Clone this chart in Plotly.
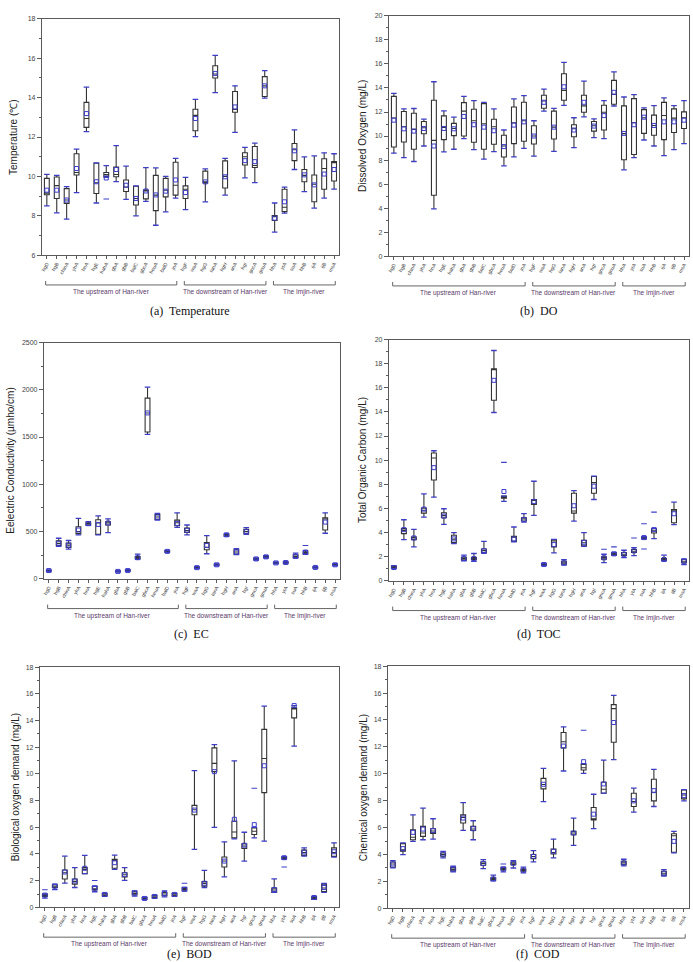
import plotly.graph_objects as go

W, H = 693, 962

upstream = ["hgD", "hgB", "chinA", "yhA", "hnA", "hgE", "hahA", "gbA", "gbB", "balC", "gbcA", "heuA", "balD", "jnA"]
downstream = ["hgF", "waA", "hgG", "tanA", "hgH", "anA", "hgI", "gncA", "gnuA"]
imjin = ["hhA", "ytA", "suA", "hhB", "ijA", "ijB", "msA"]
sites = upstream + downstream + imjin
group_names = ["The upstream of Han-river", "The downstream of Han-river", "The Imjin-river"]
group_sites = [upstream, downstream, imjin]

# ---- (a) Temperature
temp_min = [8.5, 8.15, 7.83, 9.18, 12.27, 8.65, 9.95, 9.73, 8.83, 8.0, 8.73, 7.52, 8.2, 8.9,
            8.31, 12.02, 8.71, 14.26, 9.05, 12.24, 9.93, 9.68, 13.98,
            7.17, 8.13, 10.35, 9.23, 8.39, 8.9, 9.35]
temp_q1 = [9.07, 8.88, 8.63, 10.07, 12.49, 9.13, 10.0, 9.98, 9.23, 8.55, 8.86, 8.26, 8.96, 9.05,
           8.88, 12.32, 9.67, 15.0, 9.41, 13.26, 10.58, 10.45, 14.06,
           7.76, 8.21, 10.8, 9.73, 8.71, 9.35, 9.77]
temp_med = [9.15, 9.53, 8.8, 10.2, 12.94, 9.68, 10.1, 10.1, 9.46, 8.88, 9.26, 9.05, 9.3, 9.55,
            9.35, 13.1, 9.72, 15.2, 10.0, 13.4, 11.0, 10.55, 14.6,
            7.95, 8.43, 11.35, 10.05, 9.6, 10.4, 10.7]
temp_q3 = [9.9, 9.97, 9.38, 11.15, 13.76, 10.67, 10.2, 10.47, 9.82, 9.5, 9.31, 10.05, 9.9, 10.72,
           9.52, 13.41, 10.27, 15.62, 10.79, 14.31, 11.2, 11.52, 15.07,
           8.01, 9.35, 11.67, 10.35, 10.07, 10.9, 10.75]
temp_max = [10.1, 10.05, 9.48, 11.39, 14.53, 10.69, 10.55, 11.56, 10.52, 9.52, 10.45, 10.43, 10.0, 10.92,
            9.95, 13.91, 10.38, 16.15, 10.92, 14.6, 11.47, 11.69, 15.37,
            8.65, 9.46, 12.36, 10.99, 11.04, 11.2, 11.15]
temp_mean = [9.3, 9.3, 8.8, 10.4, 13.19, 9.73, 9.92, 10.35, 9.55, 8.88, 9.26, 9.06, 9.25, 9.82,
             9.18, 12.94, 9.72, 15.23, 9.98, 13.53, 10.8, 10.75, 14.6,
             7.88, 8.71, 11.3, 10.08, 9.57, 10.12, 10.35]
temp_out = [("hahA", 8.85)]

# ---- (b) DO
do_min = [8.57, 8.2, 7.88, 9.17, 3.94, 8.68, 8.9, 9.78, 8.87, 8.07, 8.7, 7.52, 8.26, 8.98,
          8.32, 12.07, 8.73, 12.56, 9.04, 11.6, 9.86, 9.78, 12.5,
          7.19, 8.2, 9.67, 9.17, 8.37, 8.87, 9.37]
do_q1 = [9.09, 9.5, 8.9, 10.19, 5.07, 9.7, 10.03, 10.0, 9.48, 8.9, 9.31, 8.26, 9.37, 9.56,
         9.34, 12.31, 9.75, 12.98, 9.94, 11.98, 10.41, 10.5, 12.64,
         8.02, 8.46, 10.22, 10.06, 9.7, 10.3, 10.63]
do_med = [11.5, 10.77, 10.55, 10.69, 9.64, 10.72, 10.63, 12.07, 11.27, 11.02, 10.77, 9.17, 11.1, 11.27,
          10.0, 12.92, 10.74, 13.8, 10.6, 12.51, 10.85, 11.98, 13.47,
          10.2, 11.1, 11.52, 10.88, 11.71, 11.49, 11.52]
do_q3 = [13.3, 12.04, 11.9, 11.21, 12.98, 11.68, 11.05, 12.78, 12.23, 12.7, 11.4, 10.06, 12.42, 12.81,
         10.85, 13.39, 12.07, 15.18, 10.94, 13.39, 11.21, 12.56, 14.63,
         12.51, 13.11, 12.2, 11.74, 12.8, 12.26, 12.01]
do_max = [13.55, 12.26, 12.29, 11.4, 14.52, 12.09, 11.57, 13.3, 12.95, 12.81, 12.26, 10.5, 13.09, 13.36,
          11.27, 13.91, 12.31, 16.14, 11.52, 14.57, 11.43, 12.95, 15.34,
          13.25, 13.44, 12.35, 12.53, 13.17, 12.53, 12.95]
do_mean = [11.32, 10.6, 10.41, 10.63, 9.17, 10.63, 10.6, 11.63, 10.94, 10.74, 10.44, 9.12, 10.91, 11.18,
           10.0, 12.81, 10.74, 14.1, 10.5, 12.81, 10.83, 11.7, 13.64,
           10.22, 10.94, 11.57, 10.88, 11.18, 11.18, 11.32]
do_out = []

# ---- (c) EC
ec_min = [75, 342, 314, 465, 565, 465, 489, 70, 78, 206, 1529, 621, 280, 544,
          464, 108, 265, 138, 450, 255, 471, 199, 220,
          158, 162, 220, 258, 112, 482, 138]
ec_q1 = [80, 353, 332, 478, 569, 470, 569, 74, 82, 216, 1553, 628, 285, 562,
         489, 113, 307, 143, 454, 262, 482, 203, 225,
         163, 167, 227, 265, 116, 517, 143]
ec_med = [85, 375, 356, 500, 583, 590, 590, 78, 87, 223, 1755, 653, 290, 593,
          510, 118, 332, 148, 465, 283, 500, 210, 232,
          168, 172, 237, 280, 120, 632, 148]
ec_q3 = [90, 401, 377, 551, 593, 625, 604, 82, 92, 234, 1912, 680, 295, 621,
         537, 123, 384, 153, 471, 307, 523, 217, 240,
         173, 177, 255, 286, 124, 646, 153]
ec_max = [95, 429, 405, 639, 604, 665, 635, 85, 97, 262, 2028, 691, 300, 698,
          569, 128, 457, 158, 478, 318, 541, 222, 245,
          178, 182, 272, 297, 128, 698, 160]
ec_mean = [87, 377, 356, 516, 583, 575, 590, 78, 87, 223, 1755, 653, 290, 586,
           513, 118, 352, 148, 465, 283, 499, 210, 232,
           168, 172, 237, 283, 120, 600, 148]
ec_out = [("hhB", 352)]

# ---- (d) TOC
toc_min = [1.0, 3.41, 2.81, 5.28, 6.93, 4.68, 3.08, 1.65, 1.6, 2.28, 13.95, 6.58, 3.22, 4.87,
           5.42, 1.25, 2.31, 1.29, 4.95, 2.86, 6.74, 1.51, 2.1,
           1.93, 2.09, 3.45, 3.49, 1.65, 4.65, 1.35]
toc_q1 = [1.05, 3.91, 3.41, 5.61, 8.36, 5.23, 3.16, 1.71, 1.75, 2.34, 14.97, 6.85, 3.27, 4.95,
          6.33, 1.27, 2.81, 1.38, 5.61, 2.89, 7.26, 1.79, 2.15,
          2.09, 2.34, 3.49, 3.96, 1.68, 4.81, 1.49]
toc_med = [1.1, 4.18, 3.55, 5.85, 10.18, 5.4, 3.45, 1.84, 1.84, 2.5, 17.52, 6.95, 3.62, 5.12,
           6.65, 1.35, 3.3, 1.5, 5.78, 3.15, 8.14, 1.9, 2.22,
           2.2, 2.45, 3.55, 4.15, 1.76, 5.8, 1.62]
toc_q3 = [1.21, 4.32, 3.63, 6.02, 10.59, 5.64, 3.77, 1.95, 1.92, 2.64, 17.58, 7.02, 3.69, 5.23,
          6.74, 1.43, 3.41, 1.62, 7.26, 3.36, 8.64, 1.98, 2.31,
          2.34, 2.59, 3.6, 4.32, 1.84, 5.91, 1.76]
toc_max = [1.25, 5.06, 4.26, 7.2, 10.78, 5.97, 3.99, 2.12, 2.26, 3.27, 19.09, 7.02, 4.46, 5.56,
           8.25, 1.45, 3.44, 1.76, 7.48, 3.99, 8.67, 2.2, 2.35,
           2.53, 2.75, 3.65, 4.35, 2.12, 6.52, 1.82]
toc_mean = [1.1, 4.24, 3.55, 5.94, 9.38, 5.36, 3.47, 1.84, 1.84, 2.5, 16.62, 7.4, 3.47, 5.09,
            6.58, 1.35, 3.0, 1.49, 6.22, 3.19, 7.84, 1.9, 2.23,
            2.2, 2.48, 3.58, 4.24, 1.76, 5.56, 1.62]
toc_out = [("heuA", 9.82), ("gncA", 2.61), ("gnuA", 2.81), ("ytA", 3.55),
           ("suA", 4.73), ("suA", 2.64), ("hhB", 5.69)]

# ---- (e) BOD
bod_min = [0.69, 1.34, 1.81, 1.49, 2.53, 1.17, 0.82, 2.85, 2.03, 0.84, 0.58, 0.68, 0.79, 0.82,
           1.22, 4.34, 1.49, 6.0, 2.28, 5.13, 3.47, 5.21, 4.96,
           1.12, 3.6, 12.08, 3.84, 0.6, 1.12, 3.77]
bod_q1 = [0.82, 1.49, 2.13, 1.74, 2.53, 1.31, 0.87, 2.93, 2.28, 0.94, 0.62, 0.72, 0.87, 0.87,
          1.29, 6.94, 1.59, 10.17, 3.02, 5.21, 4.41, 5.46, 8.6,
          1.12, 3.67, 14.2, 3.89, 0.62, 1.19, 3.82]
bod_med = [0.9, 1.58, 2.6, 1.95, 2.85, 1.4, 0.95, 3.5, 2.45, 1.05, 0.67, 0.8, 1.0, 0.95,
           1.35, 7.31, 1.8, 10.79, 3.47, 5.65, 4.6, 5.7, 11.16,
           1.3, 3.72, 14.9, 4.1, 0.7, 1.45, 4.1]
bod_q3 = [0.99, 1.69, 2.8, 2.13, 2.98, 1.56, 1.04, 3.6, 2.6, 1.17, 0.74, 0.89, 1.12, 1.04,
          1.44, 7.64, 1.93, 11.95, 3.77, 6.45, 4.76, 5.95, 13.34,
          1.44, 3.77, 14.95, 4.29, 0.79, 1.74, 4.46]
bod_max = [1.0, 1.74, 3.84, 2.98, 3.89, 1.6, 1.07, 3.92, 2.98, 1.24, 0.76, 0.92, 1.24, 1.07,
           1.5, 10.24, 2.78, 12.2, 4.91, 10.98, 5.63, 6.0, 15.08,
           2.13, 3.8, 15.12, 4.46, 0.82, 1.79, 4.84]
bod_mean = [0.92, 1.59, 2.65, 1.98, 2.93, 1.44, 0.97, 3.35, 2.45, 1.09, 0.67, 0.82, 1.04, 0.97,
            1.36, 7.29, 1.81, 10.17, 3.47, 6.6, 4.66, 6.2, 10.61,
            1.34, 3.72, 15.12, 4.14, 0.74, 1.49, 4.17]
bod_out = [("hgD", 1.32), ("hgE", 2.01), ("hgF", 1.81), ("gncA", 8.93), ("ytA", 3.03)]

# ---- (f) COD  (no data at suA)
cod_min = [3.01, 3.99, 4.98, 5.1, 5.15, 3.75, 2.71, 5.79, 5.1, 2.96, 2.05, 2.71, 3.0, 2.64,
           3.45, 7.94, 3.75, 10.21, 4.68, 10.03, 5.92, 8.56, 11.05,
           3.16, 7.15, None, 7.57, 2.39, 4.12, 7.99]
cod_q1 = [3.06, 4.24, 5.1, 5.35, 5.57, 3.87, 2.79, 6.34, 5.79, 3.21, 2.1, 2.86, 3.25, 2.76,
          3.7, 8.88, 4.04, 11.93, 5.47, 10.28, 6.58, 8.56, 12.35,
          3.25, 7.57, None, 7.99, 2.47, 4.17, 8.14]
cod_med = [3.3, 4.35, 5.28, 5.6, 5.75, 4.0, 2.9, 6.75, 5.9, 3.33, 2.18, 2.93, 3.35, 2.84,
           3.85, 9.2, 4.15, 12.38, 5.6, 10.45, 6.6, 8.85, 14.84,
           3.38, 7.94, None, 8.63, 2.61, 5.4, 8.43]
cod_q3 = [3.45, 4.81, 5.84, 6.09, 5.92, 4.12, 3.03, 6.95, 6.09, 3.45, 2.27, 3.01, 3.45, 2.93,
          4.0, 9.66, 4.41, 13.07, 5.72, 10.7, 7.5, 9.37, 15.14,
          3.5, 8.56, None, 9.59, 2.76, 5.55, 8.8]
cod_max = [3.55, 4.86, 6.95, 7.45, 6.66, 4.24, 3.13, 7.86, 6.51, 3.62, 2.47, 3.06, 3.55, 3.06,
           4.29, 10.4, 5.15, 13.49, 6.71, 10.75, 8.48, 11.02, 15.83,
           3.65, 8.93, None, 10.33, 2.88, 5.72, 8.83]
cod_mean = [3.3, 4.44, 5.65, 5.89, 5.79, 4.04, 2.91, 6.71, 5.92, 3.33, 2.19, 2.93, 3.35, 2.84,
            3.87, 9.22, 4.24, 12.06, 5.6, 10.9, 7.0, 9.25, 13.81,
            3.38, 7.99, None, 8.75, 2.61, 4.98, 8.38]
cod_out = [("heuA", 3.3), ("anA", 13.24)]

# panel definitions (pixel boxes of the plot areas)
panels = [
    dict(mn=temp_min, q1=temp_q1, md=temp_med, q3=temp_q3, mx=temp_max, mean=temp_mean, out=temp_out,
         title="Temperature (℃)", caption="(a)  Temperature", yr=[6, 18], dt=2, minor=1,
         box=(40, 338, 15, 253), tx=11, cap=47),
    dict(mn=do_min, q1=do_q1, md=do_med, q3=do_q3, mx=do_max, mean=do_mean, out=do_out,
         title="Dissolved Oxygen (mg/L)", caption="(b)  DO", yr=[0, 20], dt=2, minor=1,
         box=(388, 689, 12, 254), tx=361, cap=46),
    dict(mn=ec_min, q1=ec_q1, md=ec_med, q3=ec_q3, mx=ec_max, mean=ec_mean, out=ec_out,
         title="Eelectric Conductivity (µmho/cm)", caption="(c)  EC", yr=[0, 2500], dt=500, minor=250,
         box=(42, 339, 341, 579), tx=9, cap=47),
    dict(mn=toc_min, q1=toc_q1, md=toc_med, q3=toc_q3, mx=toc_max, mean=toc_mean, out=toc_out,
         title="Total Organic Carbon (mg/L)", caption="(d)  TOC", yr=[0, 20], dt=2, minor=1,
         box=(388, 689, 338, 581), tx=361, cap=45),
    dict(mn=bod_min, q1=bod_q1, md=bod_med, q3=bod_q3, mx=bod_max, mean=bod_mean, out=bod_out,
         title="Biological oxygen demand (mg/L)", caption="(e)  BOD", yr=[0, 18], dt=2, minor=1,
         box=(38, 338, 668, 910), tx=13, cap=38),
    dict(mn=cod_min, q1=cod_q1, md=cod_med, q3=cod_q3, mx=cod_max, mean=cod_mean, out=cod_out,
         title="Chemical oxygen demand (mg/L)", caption="(f)  COD", yr=[0, 18], dt=2, minor=1,
         box=(387, 689, 667, 911), tx=362, cap=37),
]

BLUE = "#3d3dc8"
LINE = "#333333"
AX = "#5a5a5a"
GROUPC = "#5a3a6a"


def px_x(v):
    return v / W


def px_y(v):
    return 1 - v / H


fig = go.Figure()
layout = dict(width=W, height=H, margin=dict(l=0, r=0, t=0, b=0), paper_bgcolor="white",
              plot_bgcolor="white", showlegend=False, font=dict(family="Liberation Sans, Arial"))
annotations = []
shapes = []

for i, p in enumerate(panels):
    n = i + 1
    xa = "x" if n == 1 else f"x{n}"
    ya = "y" if n == 1 else f"y{n}"
    x0, x1, y0, y1 = p["box"]
    idx = [k for k in range(len(sites)) if p["q1"][k] is not None]
    xs = [sites[k] for k in idx]
    fig.add_trace(go.Box(
        x=xs, q1=[p["q1"][k] for k in idx], median=[p["md"][k] for k in idx],
        q3=[p["q3"][k] for k in idx], lowerfence=[p["mn"][k] for k in idx],
        upperfence=[p["mx"][k] for k in idx], boxpoints=False,
        fillcolor="white", line=dict(color=LINE, width=1.1), whiskerwidth=0,
        xaxis=xa, yaxis=ya, hoverinfo="skip"))
    # min/max end marks
    fig.add_trace(go.Scatter(
        x=xs + xs, y=[p["mn"][k] for k in idx] + [p["mx"][k] for k in idx], mode="markers",
        marker=dict(symbol="line-ew", size=4, line=dict(color=BLUE, width=1.3)),
        xaxis=xa, yaxis=ya, hoverinfo="skip"))
    # outliers
    if p["out"]:
        fig.add_trace(go.Scatter(
            x=[o[0] for o in p["out"]], y=[o[1] for o in p["out"]], mode="markers",
            marker=dict(symbol="line-ew", size=4, line=dict(color=BLUE, width=1.1)),
            xaxis=xa, yaxis=ya, hoverinfo="skip"))
    # means
    fig.add_trace(go.Scatter(
        x=xs, y=[p["mean"][k] for k in idx], mode="markers",
        marker=dict(symbol="square-open", size=4, color=BLUE, line=dict(width=1)),
        xaxis=xa, yaxis=ya, hoverinfo="skip"))

    key_x = "xaxis" if n == 1 else f"xaxis{n}"
    key_y = "yaxis" if n == 1 else f"yaxis{n}"
    layout[key_x] = dict(domain=[px_x(x0), px_x(x1)], anchor=ya, type="category",
                         categoryorder="array", categoryarray=sites, range=[-0.5, len(sites) - 0.5],
                         showline=True, mirror=True, linecolor=AX, linewidth=1,
                         ticks="outside", ticklen=3, tickcolor=AX, tickangle=-60,
                         tickfont=dict(size=5, color="#444"), showgrid=False, zeroline=False,
                         fixedrange=True)
    layout[key_y] = dict(domain=[px_y(y1), px_y(y0)], anchor=xa, range=p["yr"], dtick=p["dt"],
                         tick0=0, showline=True, mirror=True, linecolor=AX, linewidth=1,
                         ticks="outside", ticklen=4, tickcolor=AX,
                         tickfont=dict(size=7, color="#444"), showgrid=False, zeroline=False,
                         minor=dict(ticks="outside", ticklen=2, tickcolor=AX, dtick=p["minor"],
                                    showgrid=False),
                         fixedrange=True)
    # y-axis title
    annotations.append(dict(text=p["title"], x=px_x(p["tx"]), y=px_y((y0 + y1) / 2),
                            xref="paper", yref="paper", textangle=-90, showarrow=False,
                            xanchor="center", yanchor="middle",
                            font=dict(size=10, color="#222", family="Liberation Sans, Arial")))
    # group brackets
    by = px_y(y1 + 30)
    btop = px_y(y1 + 26)
    start = 0
    for gname, gsites in zip(group_names, group_sites):
        a = start - 0.12
        b = start + len(gsites) - 1 + 0.12
        start += len(gsites)
        for seg in [(a, by, b, by), (a, by, a, btop), (b, by, b, btop)]:
            shapes.append(dict(type="line", xref=xa, yref="paper", x0=seg[0], y0=seg[1],
                               x1=seg[2], y1=seg[3], line=dict(color="#666", width=1)))
        annotations.append(dict(text=gname, x=(a + b) / 2, y=px_y(y1 + 31), xref=xa, yref="paper",
                                showarrow=False, xanchor="center", yanchor="top",
                                font=dict(size=6.5, color=GROUPC, family="Liberation Sans, Arial")))
    # caption
    annotations.append(dict(text=p["caption"], x=px_x((x0 + x1) / 2), y=px_y(y1 + p["cap"]),
                            xref="paper", yref="paper", showarrow=False, xanchor="center",
                            yanchor="top",
                            font=dict(size=12, color="#111", family="Liberation Serif, Times New Roman")))

layout["annotations"] = annotations
layout["shapes"] = shapes
fig.update_layout(**layout)
fig.write_html("out.html")
